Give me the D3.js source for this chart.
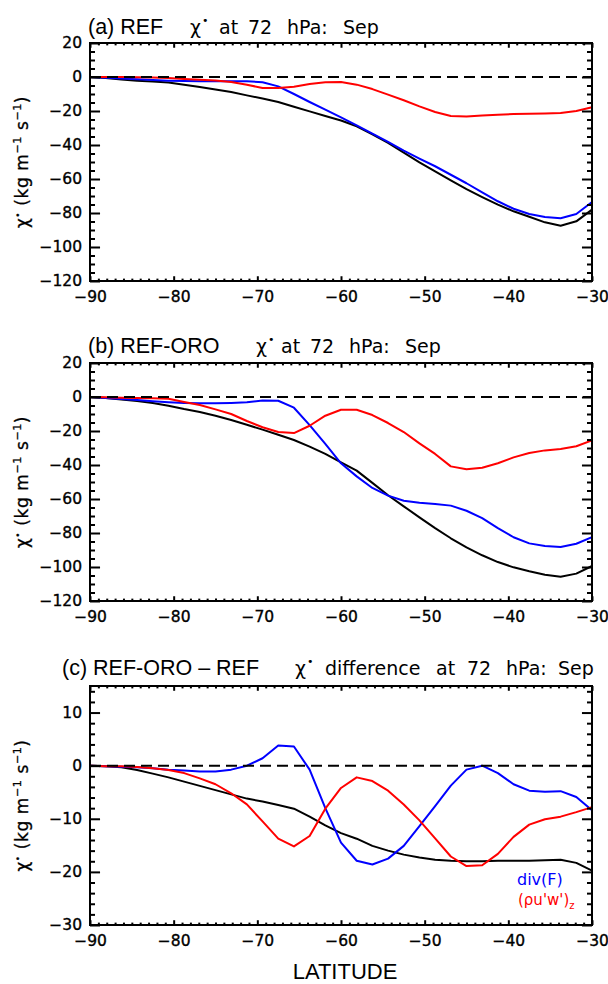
<!DOCTYPE html>
<html><head><meta charset="utf-8">
<script src="https://cdn.jsdelivr.net/npm/d3@7"></script>
<style>body{margin:0;background:#fff} svg{display:block}</style>
</head><body><svg id="c" width="608" height="984"></svg>
<script>
// ---- data ----
const lat = [-90, -88.125, -86.25, -84.375, -82.5, -80.625, -78.75, -76.875, -75, -73.125, -71.25, -69.375, -67.5, -65.625, -63.75, -61.875, -60, -58.125, -56.25, -54.375, -52.5, -50.625, -48.75, -46.875, -45, -43.125, -41.25, -39.375, -37.5, -35.625, -33.75, -31.875, -30];

// (a) REF
const refTotal = [0, -0.6, -1.4, -2.2, -2.7, -3.3, -4.5, -5.9, -7.3, -8.8, -10.8, -12.7, -14.7, -17.5, -20.2, -22.9, -25.6, -29.0, -33.7, -38.8, -44.5, -50.2, -55.5, -60.8, -65.9, -70.6, -75.1, -79.0, -82.2, -85.5, -87.5, -84.9, -78.0];
const refDivF  = [0, -0.4, -0.9, -1.3, -1.8, -2.2, -2.4, -2.5, -2.5, -2.5, -2.5, -3.1, -5.5, -10.0, -14.7, -19.2, -23.8, -28.4, -33.3, -38.2, -43.3, -48.0, -52.5, -57.5, -62.5, -67.8, -73.1, -77.5, -80.6, -82.4, -83.1, -80.6, -73.5];
const refGW    = [0, 0, 0, -0.1, -0.3, -0.6, -1.2, -1.6, -2.0, -3.0, -4.5, -6.5, -6.5, -5.7, -4.1, -3.1, -2.9, -4.5, -7.1, -10.4, -13.7, -17.3, -20.6, -22.9, -23.3, -22.7, -22.2, -21.8, -21.6, -21.4, -21.2, -20.0, -17.8];

// (b) REF-ORO
const oroTotal = [0, -0.6, -1.4, -2.4, -3.5, -5.1, -7.1, -8.8, -11.0, -13.5, -16.3, -19.2, -22.2, -25.3, -29.2, -33.5, -38.5, -43.3, -50.5, -57.8, -64.3, -70.8, -77.1, -83.1, -88.4, -93.1, -97.1, -100.2, -102.5, -104.5, -105.7, -103.9, -99.4];
const oroDivF  = [0, -0.6, -1.2, -1.8, -2.5, -3.1, -3.5, -3.7, -3.7, -3.5, -3.1, -2.0, -2.2, -6.3, -16.5, -27.6, -39.0, -46.7, -53.5, -58.0, -61.0, -62.2, -62.9, -63.9, -66.9, -71.2, -77.1, -82.5, -86.1, -87.6, -88.2, -86.3, -82.4];
const oroGW    = [0, -0.2, -0.4, -0.6, -0.8, -1.0, -2.9, -4.7, -7.3, -10.0, -14.1, -17.8, -20.6, -21.2, -16.9, -11.0, -7.5, -7.5, -10.6, -15.3, -20.6, -27.3, -33.5, -40.8, -42.5, -41.6, -39.0, -35.5, -32.9, -31.4, -30.6, -29.0, -25.5];

// (c) REF-ORO - REF
const diffTotal = [0, -0.1, -0.3, -0.8, -1.5, -2.2, -3.0, -3.8, -4.6, -5.4, -6.2, -6.75, -7.4, -8.1, -9.6, -11.25, -12.7, -13.75, -15.1, -16.0, -16.75, -17.3, -17.7, -17.9, -18.0, -18.0, -17.9, -17.9, -17.9, -17.8, -17.7, -18.3, -19.75];
const diffDivF  = [0, -0.1, -0.2, -0.3, -0.5, -0.75, -0.9, -1.1, -1.1, -0.75, 0, 1.4, 3.8, 3.6, -0.75, -8.0, -14.5, -17.9, -18.6, -17.5, -15.1, -11.4, -7.6, -3.75, -0.75, 0, -1.4, -3.5, -4.7, -4.9, -4.8, -5.9, -8.4];
const diffGW    = [0, -0.1, -0.1, -0.25, -0.5, -0.8, -1.4, -2.4, -3.5, -5.2, -7.3, -10.5, -13.75, -15.2, -13.25, -8.1, -4.2, -2.2, -2.9, -4.7, -7.3, -10.3, -13.7, -17.1, -18.9, -18.75, -16.6, -13.4, -11.1, -10.1, -9.6, -8.75, -7.8];

const xTicks = [-90, -80, -70, -60, -50, -40, -30];
const yTicksAB = [-120, -100, -80, -60, -40, -20, 0, 20];
const yTicksC = [-30, -20, -10, 0, 10];
const seriesColors = ['#000000', '#0000ff', '#ff0000'];

const titlesLeft = ['(a) REF', '(b) REF-ORO', '(c) REF-ORO \u2013 REF'];
const titlesRight = [
  ['at', '72', 'hPa:', 'Sep'],
  ['at', '72', 'hPa:', 'Sep'],
  ['difference', 'at', '72', 'hPa:', 'Sep']
];

// ---- layout ----
const X0 = 90, X1 = 592;
const panels = [
  {top: 43, bottom: 281, domain: [-120, 20], ticks: yTicksAB, minorStep: 5,
   series: [refTotal, refDivF, refGW], titleY: 34, leftX: 88, chiX: 190, wordX: [219, 248, 287, 343]},
  {top: 363, bottom: 601, domain: [-120, 20], ticks: yTicksAB, minorStep: 5,
   series: [oroTotal, oroDivF, oroGW], titleY: 353, leftX: 88, chiX: 256, wordX: [281, 310, 349, 405]},
  {top: 686, bottom: 925, domain: [-30, 15], ticks: yTicksC, minorStep: 2,
   series: [diffTotal, diffDivF, diffGW], titleY: 675, leftX: 62, chiX: 295, wordX: [325, 436, 467, 506, 558]}
];

const svg = d3.select('#c');
const x = d3.scaleLinear().domain([-90, -30]).range([X0, X1]);
const xMinor = d3.range(-90, -29, 1).filter(v => v % 10 !== 0);
const tickFont = 'DejaVu Sans';

panels.forEach((p, i) => {
  const y = d3.scaleLinear().domain(p.domain).range([p.bottom, p.top]);
  const g = svg.append('g');
  const yMinor = d3.range(p.domain[0], p.domain[1] + 0.001, p.minorStep).filter(v => p.ticks.indexOf(v) < 0 && v !== p.domain[1]);
  const H = p.bottom - p.top, W = X1 - X0;
  const xt = 0.02 * H, yt = 0.02 * W;

  // data lines
  const line = d3.line().x((d, k) => x(lat[k])).y(d => y(d));
  p.series.forEach((s, j) => {
    g.append('path').datum(s).attr('d', line)
      .attr('fill', 'none').attr('stroke', seriesColors[j]).attr('stroke-width', 2)
      .attr('stroke-linejoin', 'round');
  });

  // zero dashed line
  g.append('line').attr('x1', X0).attr('x2', X1).attr('y1', y(0)).attr('y2', y(0))
    .attr('stroke', '#000').attr('stroke-width', 2).attr('stroke-dasharray', '11,6');

  const styleAxis = sel => {
    sel.select('.domain').remove();
    sel.selectAll('line').attr('stroke', '#000').attr('stroke-width', 2);
    sel.selectAll('text').attr('font-family', tickFont).attr('font-size', 15.5).attr('fill', '#000')
      .attr('stroke', '#000').attr('stroke-width', 0.35);
  };

  // bottom
  g.append('g').attr('transform', `translate(0,${p.bottom})`)
    .call(d3.axisBottom(x).tickValues(xTicks).tickSize(-xt).tickSizeOuter(0).tickPadding(10).tickFormat(d3.format('d')))
    .call(styleAxis);
  g.append('g').attr('transform', `translate(0,${p.bottom})`)
    .call(d3.axisBottom(x).tickValues(xMinor).tickSize(-xt / 2).tickSizeOuter(0).tickFormat(''))
    .call(styleAxis);
  // top
  g.append('g').attr('transform', `translate(0,${p.top})`)
    .call(d3.axisTop(x).tickValues(xTicks).tickSize(-xt).tickSizeOuter(0).tickFormat(''))
    .call(styleAxis);
  g.append('g').attr('transform', `translate(0,${p.top})`)
    .call(d3.axisTop(x).tickValues(xMinor).tickSize(-xt / 2).tickSizeOuter(0).tickFormat(''))
    .call(styleAxis);
  // left
  g.append('g').attr('transform', `translate(${X0},0)`)
    .call(d3.axisLeft(y).tickValues(p.ticks).tickSize(-yt).tickSizeOuter(0).tickPadding(8).tickFormat(d3.format('d')))
    .call(styleAxis);
  g.append('g').attr('transform', `translate(${X0},0)`)
    .call(d3.axisLeft(y).tickValues(yMinor).tickSize(-yt / 2).tickSizeOuter(0).tickFormat(''))
    .call(styleAxis);
  // right
  g.append('g').attr('transform', `translate(${X1},0)`)
    .call(d3.axisRight(y).tickValues(p.ticks).tickSize(-yt).tickSizeOuter(0).tickFormat(''))
    .call(styleAxis);
  g.append('g').attr('transform', `translate(${X1},0)`)
    .call(d3.axisRight(y).tickValues(yMinor).tickSize(-yt / 2).tickSizeOuter(0).tickFormat(''))
    .call(styleAxis);

  // frame
  g.append('rect').attr('x', X0).attr('y', p.top).attr('width', W).attr('height', H)
    .attr('fill', 'none').attr('stroke', '#000').attr('stroke-width', 2);

  // titles
  g.append('text').attr('x', p.leftX).attr('y', p.titleY)
    .attr('font-family', 'Liberation Sans').attr('font-size', 21.5).attr('fill', '#000')
    .text(titlesLeft[i]);
  const tt = g.append('text').attr('y', p.titleY)
    .attr('font-family', 'DejaVu Sans').attr('font-size', 19).attr('fill', '#000');
  tt.append('tspan').attr('x', p.chiX).text('\u03c7');
  tt.append('tspan').attr('dx', 1).attr('dy', -10).attr('font-size', 11).text('\u2022');
  titlesRight[i].forEach((w, k) => {
    tt.append('tspan').attr('x', p.wordX[k]).attr('y', p.titleY).text(w);
  });

  // y-axis title
  const cy = (p.top + p.bottom) / 2;
  const yt2 = g.append('text').attr('transform', `translate(28,${cy}) rotate(-90)`)
    .attr('text-anchor', 'middle').attr('font-family', 'DejaVu Sans').attr('font-size', 17)
    .attr('letter-spacing', 0.6).attr('fill', '#000').attr('stroke', '#000').attr('stroke-width', 0.3);
  yt2.append('tspan').text('\u03c7');
  yt2.append('tspan').attr('dy', -7).attr('font-size', 9).text('\u2022');
  yt2.append('tspan').attr('dy', 7).text(' (kg m');
  yt2.append('tspan').attr('dy', -7).attr('font-size', 11).text('\u22121');
  yt2.append('tspan').attr('dy', 7).text(' s');
  yt2.append('tspan').attr('dy', -7).attr('font-size', 11).text('\u22121');
  yt2.append('tspan').attr('dy', 7).text(')');
});

// x-axis title
svg.append('text').attr('x', (X0 + X1) / 2 + 4).attr('y', 979).attr('text-anchor', 'middle')
  .attr('font-family', 'Liberation Sans').attr('font-size', 22).attr('fill', '#000').text('LATITUDE');

// legend (panel c)
svg.append('text').attr('x', 517).attr('y', 885).attr('font-family', 'DejaVu Sans').attr('font-size', 16)
  .attr('fill', '#0000ff').text('div(F)');
const lg = svg.append('text').attr('x', 518).attr('y', 905).attr('font-family', 'DejaVu Sans').attr('font-size', 15)
  .attr('fill', '#ff0000');
lg.append('tspan').text("(\u03c1u'w')");
lg.append('tspan').attr('dy', 4).attr('font-size', 10).text('z');
</script></body></html>
